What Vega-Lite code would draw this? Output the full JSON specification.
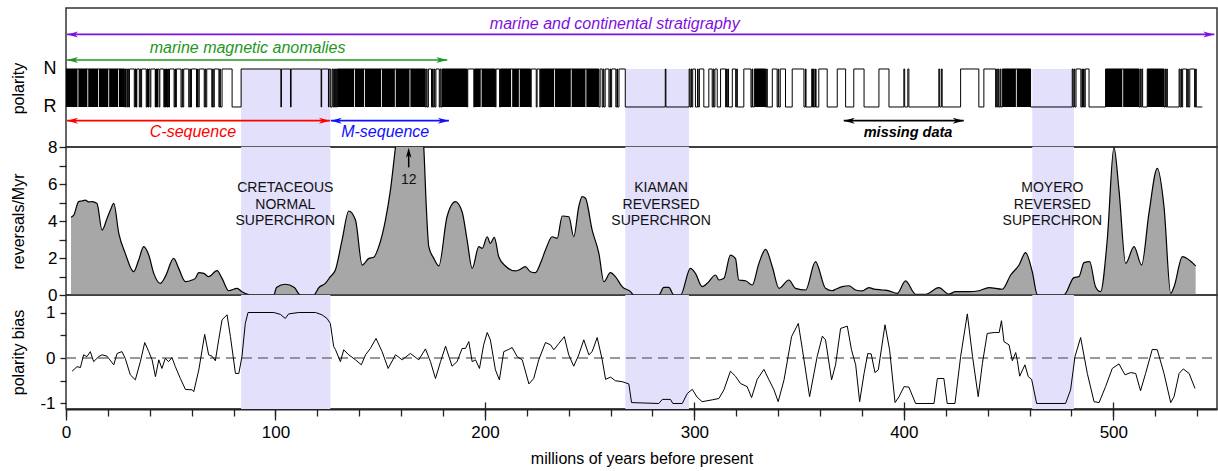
{
"$schema": "https://vega.github.io/schema/vega-lite/v6.json",
"padding": {"left": 9, "top": 7, "right": 2, "bottom": 0},
"background": "white",
"spacing": 0,
"bounds": "flush",
"config": {
 "font": "Liberation Sans",
 "view": {"stroke": "#333", "strokeWidth": 1.5},
 "axis": {"labelFont": "Liberation Sans", "titleFont": "Liberation Sans", "labelFontSize": 17, "titleFontSize": 16, "titleFontWeight": "normal", "labelColor": "#000", "titleColor": "#000", "tickColor": "#222", "domainColor": "#222", "tickWidth": 1.3, "grid": false, "labelOverlap": false, "labelFlush": false}
},
"datasets": {
 "bands": [{"s": 83.6, "e": 126.2}, {"s": 267.0, "e": 297.4}, {"s": 461.3, "e": 481.2}],
 "arrows": [{"id": "strat", "s": 0.5, "e": 548.2}, {"id": "anom", "s": 0.5, "e": 182.0}, {"id": "C", "s": 0.5, "e": 126.0}, {"id": "M", "s": 126.4, "e": 182.8}, {"id": "miss", "s": 371.3, "e": 428.6}],
 "dense": [{"s":0,"e":5.5},{"s":5.9,"e":10.2},{"s":10.6,"e":15.3},{"s":15.7,"e":20.2},{"s":20.6,"e":24.9},{"s":25.3,"e":28.0},{"s":33.0,"e":33.8},{"s":38.6,"e":39.6},{"s":42.5,"e":43.8},{"s":47.0,"e":48.6},{"s":129.5,"e":137.5},{"s":137.9,"e":142.3},{"s":142.7,"e":150.4},{"s":150.8,"e":157.0},{"s":157.4,"e":164.0},{"s":164.4,"e":171.5},{"s":179.5,"e":191.5},{"s":195.0,"e":198.0},{"s":198.4,"e":205.0},{"s":207.4,"e":212.5},{"s":213.0,"e":216.2},{"s":216.6,"e":221.8},{"s":226.5,"e":233.0},{"s":233.4,"e":241.0},{"s":241.4,"e":248.0},{"s":248.4,"e":254.4},{"s":328.6,"e":334.0},{"s":447.0,"e":453.5},{"s":453.9,"e":460.5},{"s":496.3,"e":504.3},{"s":504.7,"e":512.3},{"s":516.2,"e":524.2}],
 "pol": [{"a":0,"p":1},{"a":28.0,"p":0},{"a":28.4,"p":1},{"a":29.0,"p":0},{"a":29.4,"p":1},{"a":29.9,"p":0},{"a":30.3,"p":1},{"a":32.6,"p":0},{"a":33.0,"p":1},{"a":33.4,"p":0},{"a":33.8,"p":1},{"a":35.0,"p":0},{"a":35.4,"p":1},{"a":35.7,"p":0},{"a":36.1,"p":1},{"a":38.3,"p":0},{"a":38.7,"p":1},{"a":39.1,"p":0},{"a":39.5,"p":1},{"a":40.1,"p":0},{"a":40.5,"p":1},{"a":42.6,"p":0},{"a":43.0,"p":1},{"a":43.3,"p":0},{"a":43.7,"p":1},{"a":44.4,"p":0},{"a":44.8,"p":1},{"a":46.7,"p":0},{"a":47.1,"p":1},{"a":47.4,"p":0},{"a":47.8,"p":1},{"a":48.3,"p":0},{"a":48.7,"p":1},{"a":49.0,"p":0},{"a":49.4,"p":1},{"a":51.6,"p":0},{"a":52.0,"p":1},{"a":52.3,"p":0},{"a":52.7,"p":1},{"a":54.9,"p":0},{"a":55.4,"p":1},{"a":55.7,"p":0},{"a":56.2,"p":1},{"a":58.6,"p":0},{"a":59.1,"p":1},{"a":59.4,"p":0},{"a":59.9,"p":1},{"a":62.3,"p":0},{"a":62.8,"p":1},{"a":63.1,"p":0},{"a":63.6,"p":1},{"a":66.0,"p":0},{"a":66.4,"p":1},{"a":66.7,"p":0},{"a":67.2,"p":1},{"a":69.6,"p":0},{"a":70.0,"p":1},{"a":70.3,"p":0},{"a":70.8,"p":1},{"a":73.0,"p":0},{"a":73.4,"p":1},{"a":73.7,"p":0},{"a":74.5,"p":1},{"a":79.3,"p":0},{"a":83.6,"p":1},{"a":102.6,"p":0},{"a":102.85,"p":1},{"a":107.2,"p":0},{"a":107.45,"p":1},{"a":121.8,"p":0},{"a":122.05,"p":1},{"a":125.3,"p":0},{"a":125.55,"p":1},{"a":126.2,"p":0},{"a":127.0,"p":1},{"a":127.4,"p":0},{"a":127.8,"p":1},{"a":128.2,"p":0},{"a":128.7,"p":1},{"a":129.1,"p":0},{"a":129.5,"p":1},{"a":171.5,"p":0},{"a":172.0,"p":1},{"a":172.4,"p":0},{"a":173.0,"p":1},{"a":174.5,"p":0},{"a":175.0,"p":1},{"a":175.3,"p":0},{"a":175.8,"p":1},{"a":176.1,"p":0},{"a":176.6,"p":1},{"a":178.2,"p":0},{"a":178.6,"p":1},{"a":179.0,"p":0},{"a":179.5,"p":1},{"a":191.5,"p":0},{"a":191.8,"p":1},{"a":194.7,"p":0},{"a":195.0,"p":1},{"a":205.0,"p":0},{"a":205.3,"p":1},{"a":207.0,"p":0},{"a":207.4,"p":1},{"a":221.8,"p":0},{"a":222.1,"p":1},{"a":224.5,"p":0},{"a":224.9,"p":1},{"a":226.2,"p":0},{"a":226.5,"p":1},{"a":254.4,"p":0},{"a":255.0,"p":1},{"a":256.0,"p":0},{"a":256.5,"p":1},{"a":256.8,"p":0},{"a":257.4,"p":1},{"a":259.2,"p":0},{"a":259.7,"p":1},{"a":260.0,"p":0},{"a":260.5,"p":1},{"a":262.5,"p":0},{"a":263.0,"p":1},{"a":263.3,"p":0},{"a":264.0,"p":1},{"a":267.0,"p":0},{"a":286.1,"p":1},{"a":286.4,"p":0},{"a":297.5,"p":1},{"a":297.9,"p":0},{"a":298.4,"p":1},{"a":298.7,"p":0},{"a":299.2,"p":1},{"a":300.5,"p":0},{"a":301.5,"p":1},{"a":301.8,"p":0},{"a":302.4,"p":1},{"a":304.5,"p":0},{"a":306.9,"p":1},{"a":308.5,"p":0},{"a":309.0,"p":1},{"a":309.3,"p":0},{"a":309.8,"p":1},{"a":310.9,"p":0},{"a":312.5,"p":1},{"a":314.9,"p":0},{"a":315.3,"p":1},{"a":315.6,"p":0},{"a":316.0,"p":1},{"a":316.3,"p":0},{"a":318.1,"p":1},{"a":319.7,"p":0},{"a":320.2,"p":1},{"a":320.5,"p":0},{"a":323.6,"p":1},{"a":327.0,"p":0},{"a":327.5,"p":1},{"a":327.8,"p":0},{"a":328.6,"p":1},{"a":334.0,"p":0},{"a":334.5,"p":1},{"a":334.8,"p":0},{"a":337.2,"p":1},{"a":339.5,"p":0},{"a":340.0,"p":1},{"a":340.3,"p":0},{"a":341.0,"p":1},{"a":343.5,"p":0},{"a":346.7,"p":1},{"a":352.3,"p":0},{"a":353.0,"p":1},{"a":353.3,"p":0},{"a":356.0,"p":1},{"a":356.4,"p":0},{"a":356.9,"p":1},{"a":357.2,"p":0},{"a":357.8,"p":1},{"a":358.1,"p":0},{"a":359.4,"p":1},{"a":363.4,"p":0},{"a":368.2,"p":1},{"a":372.2,"p":0},{"a":376.1,"p":1},{"a":381.0,"p":0},{"a":388.1,"p":1},{"a":392.9,"p":0},{"a":400.0,"p":1},{"a":400.4,"p":0},{"a":401.9,"p":1},{"a":402.4,"p":0},{"a":416.7,"p":1},{"a":417.1,"p":0},{"a":417.9,"p":1},{"a":418.3,"p":0},{"a":427.1,"p":1},{"a":435.8,"p":0},{"a":438.2,"p":1},{"a":443.8,"p":0},{"a":444.3,"p":1},{"a":444.6,"p":0},{"a":445.1,"p":1},{"a":445.4,"p":0},{"a":446.0,"p":1},{"a":446.3,"p":0},{"a":447.0,"p":1},{"a":460.5,"p":0},{"a":480.4,"p":1},{"a":480.8,"p":0},{"a":481.3,"p":1},{"a":481.6,"p":0},{"a":482.2,"p":1},{"a":484.5,"p":0},{"a":485.0,"p":1},{"a":485.3,"p":0},{"a":485.8,"p":1},{"a":486.1,"p":0},{"a":486.6,"p":1},{"a":488.4,"p":0},{"a":496.3,"p":1},{"a":512.3,"p":0},{"a":512.8,"p":1},{"a":513.1,"p":0},{"a":513.6,"p":1},{"a":514.0,"p":0},{"a":516.2,"p":1},{"a":524.2,"p":0},{"a":524.7,"p":1},{"a":525.0,"p":0},{"a":525.5,"p":1},{"a":525.8,"p":0},{"a":531.4,"p":1},{"a":531.8,"p":0},{"a":532.3,"p":1},{"a":532.6,"p":0},{"a":533.1,"p":1},{"a":535.0,"p":0},{"a":535.5,"p":1},{"a":535.8,"p":0},{"a":536.5,"p":1},{"a":538.8,"p":0},{"a":539.3,"p":1},{"a":539.6,"p":0},{"a":542.5,"p":0}],
 "rate": [{"a":2.4,"r":4.2},{"a":3.7,"r":4.32},{"a":6.05,"r":5.05},{"a":7.6,"r":5.08},{"a":9.2,"r":5.13},{"a":10.8,"r":5.03},{"a":12.4,"r":5.05},{"a":14.8,"r":4.95},{"a":17.2,"r":3.51},{"a":19.6,"r":4.14},{"a":21.2,"r":4.59},{"a":22.8,"r":4.95},{"a":25.2,"r":3.33},{"a":28.3,"r":2.25},{"a":32.3,"r":1.26},{"a":34.7,"r":1.89},{"a":37.1,"r":2.61},{"a":39.5,"r":2.16},{"a":41.9,"r":1.17},{"a":45.0,"r":0.63},{"a":47.4,"r":0.99},{"a":51.4,"r":1.98},{"a":53.8,"r":1.44},{"a":57.0,"r":0.72},{"a":60.2,"r":0.81},{"a":61.7,"r":0.9},{"a":63.4,"r":1.21},{"a":65.8,"r":1.17},{"a":68.1,"r":0.99},{"a":72.1,"r":1.32},{"a":74.5,"r":0.9},{"a":77.7,"r":0.23},{"a":81.7,"r":0.36},{"a":84.0,"r":0.18},{"a":87.2,"r":0.02},{"a":88.0,"r":0},{"a":99.2,"r":0},{"a":100.5,"r":0.4},{"a":104.7,"r":0.58},{"a":109.0,"r":0.4},{"a":111.9,"r":0},{"a":118.3,"r":0},{"a":120.7,"r":0.4},{"a":123.8,"r":0.63},{"a":126.2,"r":0.99},{"a":128.6,"r":1.35},{"a":131.8,"r":2.97},{"a":135.0,"r":4.54},{"a":138.2,"r":4.05},{"a":141.4,"r":1.62},{"a":144.6,"r":1.98},{"a":146.9,"r":2.04},{"a":149.3,"r":2.61},{"a":152.5,"r":4.05},{"a":154.9,"r":5.68},{"a":157.3,"r":8.0},{"a":160.0,"r":10.5},{"a":163.0,"r":12.0},{"a":166.0,"r":11.6},{"a":169.0,"r":10.0},{"a":170.8,"r":8.0},{"a":172.0,"r":4.8},{"a":173.2,"r":2.61},{"a":175.6,"r":1.98},{"a":178.0,"r":1.57},{"a":181.9,"r":4.23},{"a":185.9,"r":5.05},{"a":189.1,"r":4.5},{"a":191.5,"r":2.97},{"a":193.9,"r":1.44},{"a":197.1,"r":2.61},{"a":198.7,"r":2.52},{"a":201.1,"r":3.15},{"a":202.6,"r":2.79},{"a":204.5,"r":3.12},{"a":206.6,"r":2.07},{"a":209.8,"r":1.57},{"a":214.6,"r":1.3},{"a":216.2,"r":1.35},{"a":219.3,"r":1.53},{"a":221.7,"r":1.26},{"a":224.1,"r":1.21},{"a":226.5,"r":1.71},{"a":228.9,"r":2.43},{"a":232.1,"r":3.15},{"a":234.5,"r":3.06},{"a":236.9,"r":4.27},{"a":240.1,"r":4.23},{"a":242.4,"r":3.15},{"a":244.8,"r":4.77},{"a":246.4,"r":5.32},{"a":248.0,"r":5.23},{"a":251.2,"r":3.51},{"a":254.4,"r":2.25},{"a":256.8,"r":0.72},{"a":259.9,"r":1.21},{"a":262.3,"r":0.99},{"a":265.5,"r":0.45},{"a":269.5,"r":0.18},{"a":271.1,"r":0},{"a":283.0,"r":0},{"a":285.4,"r":0.41},{"a":287.8,"r":0.41},{"a":290.2,"r":0},{"a":293.4,"r":0},{"a":298.1,"r":1.44},{"a":300.5,"r":1.17},{"a":303.7,"r":0.45},{"a":306.1,"r":0.63},{"a":310.1,"r":1.08},{"a":311.7,"r":0.81},{"a":314.1,"r":0.9},{"a":317.2,"r":2.16},{"a":319.6,"r":1.98},{"a":321.2,"r":0.81},{"a":324.4,"r":0.77},{"a":327.6,"r":0.54},{"a":330.8,"r":1.71},{"a":334.0,"r":2.47},{"a":337.2,"r":1.53},{"a":340.4,"r":0.36},{"a":345.1,"r":0.81},{"a":348.3,"r":0.36},{"a":353.1,"r":0.27},{"a":357.8,"r":1.8},{"a":362.6,"r":0.36},{"a":365.8,"r":0.23},{"a":367.4,"r":0.31},{"a":370.6,"r":0.45},{"a":373.8,"r":0.5},{"a":376.9,"r":0.27},{"a":380.1,"r":0.22},{"a":383.3,"r":0.4},{"a":385.7,"r":0.32},{"a":389.7,"r":0.27},{"a":392.9,"r":0.22},{"a":396.8,"r":0.09},{"a":400.8,"r":0.76},{"a":405.6,"r":0.04},{"a":410.4,"r":0.04},{"a":416.7,"r":0.4},{"a":421.5,"r":0.05},{"a":424.7,"r":0.18},{"a":431.1,"r":0.18},{"a":435.8,"r":0.23},{"a":440.6,"r":0.4},{"a":447.0,"r":0.31},{"a":451.0,"r":1.08},{"a":455.0,"r":1.62},{"a":458.1,"r":2.29},{"a":461.3,"r":1.26},{"a":463.7,"r":0.02},{"a":465.0,"r":0},{"a":476.4,"r":0},{"a":481.2,"r":0.94},{"a":483.6,"r":0.99},{"a":486.0,"r":1.75},{"a":488.7,"r":1.8},{"a":491.5,"r":0.45},{"a":493.9,"r":0.18},{"a":497.1,"r":2.97},{"a":500.3,"r":7.98},{"a":502.7,"r":5.68},{"a":505.9,"r":1.71},{"a":509.9,"r":2.61},{"a":513.5,"r":1.62},{"a":517.0,"r":4.41},{"a":521.0,"r":6.85},{"a":524.2,"r":4.77},{"a":527.4,"r":0.09},{"a":529.0,"r":0.45},{"a":533.0,"r":2.07},{"a":536.2,"r":1.89},{"a":539.3,"r":1.57}],
 "bias": [{"a":2.9,"b":-0.29},{"a":5.3,"b":-0.19},{"a":6.9,"b":-0.21},{"a":8.4,"b":0.07},{"a":10.0,"b":0.03},{"a":11.6,"b":0.14},{"a":13.2,"b":-0.08},{"a":15.6,"b":0.03},{"a":17.2,"b":0.07},{"a":19.6,"b":0.04},{"a":20.4,"b":-0.01},{"a":22.8,"b":-0.15},{"a":24.4,"b":0.1},{"a":26.7,"b":0.14},{"a":28.3,"b":-0.01},{"a":30.7,"b":-0.37},{"a":33.1,"b":-0.48},{"a":35.5,"b":-0.08},{"a":37.6,"b":0.34},{"a":39.5,"b":0.14},{"a":41.1,"b":-0.04},{"a":42.7,"b":-0.41},{"a":44.3,"b":-0.04},{"a":45.8,"b":-0.23},{"a":47.4,"b":-0.01},{"a":49.0,"b":-0.08},{"a":50.6,"b":0.01},{"a":52.2,"b":-0.19},{"a":54.6,"b":-0.45},{"a":57.0,"b":-0.69},{"a":60.2,"b":-0.7},{"a":61.0,"b":-0.74},{"a":63.4,"b":-0.26},{"a":65.0,"b":0.18},{"a":66.2,"b":0.52},{"a":68.1,"b":0.07},{"a":69.7,"b":0.04},{"a":71.3,"b":-0.06},{"a":72.9,"b":0.4},{"a":74.5,"b":0.84},{"a":76.9,"b":0.95},{"a":78.5,"b":0.47},{"a":80.9,"b":-0.34},{"a":82.5,"b":-0.34},{"a":84.0,"b":0.03},{"a":85.6,"b":0.76},{"a":86.9,"b":1.0},{"a":99.2,"b":1.0},{"a":102.3,"b":0.96},{"a":104.7,"b":0.87},{"a":106.3,"b":0.97},{"a":111.1,"b":1.0},{"a":119.1,"b":1.0},{"a":122.2,"b":0.95},{"a":124.6,"b":0.87},{"a":126.2,"b":0.76},{"a":127.8,"b":0.25},{"a":128.6,"b":0.19},{"a":131.0,"b":-0.08},{"a":132.6,"b":0.18},{"a":135.0,"b":0.07},{"a":138.2,"b":-0.04},{"a":141.0,"b":-0.15},{"a":143.0,"b":0.07},{"a":145.3,"b":0.21},{"a":148.0,"b":0.43},{"a":150.9,"b":0.14},{"a":153.8,"b":-0.23},{"a":157.3,"b":0.07},{"a":160.5,"b":-0.04},{"a":164.4,"b":0.1},{"a":168.4,"b":-0.04},{"a":171.6,"b":0.2},{"a":174.0,"b":-0.08},{"a":176.4,"b":-0.45},{"a":178.8,"b":-0.08},{"a":181.2,"b":0.26},{"a":184.3,"b":-0.18},{"a":186.7,"b":-0.08},{"a":189.1,"b":0.21},{"a":190.7,"b":0.21},{"a":192.3,"b":0.36},{"a":193.9,"b":-0.08},{"a":195.5,"b":-0.04},{"a":197.4,"b":-0.23},{"a":199.4,"b":0.29},{"a":201.1,"b":0.56},{"a":202.6,"b":0.4},{"a":205.0,"b":-0.26},{"a":206.9,"b":-0.48},{"a":209.0,"b":0.14},{"a":211.4,"b":0.19},{"a":213.0,"b":0.23},{"a":215.4,"b":0.03},{"a":217.8,"b":-0.04},{"a":221.0,"b":-0.57},{"a":223.3,"b":-0.45},{"a":225.7,"b":-0.04},{"a":228.9,"b":0.34},{"a":231.3,"b":0.29},{"a":232.9,"b":0.18},{"a":235.3,"b":0.32},{"a":237.9,"b":0.47},{"a":240.0,"b":0.07},{"a":242.4,"b":-0.18},{"a":244.8,"b":0.07},{"a":247.2,"b":0.4},{"a":249.6,"b":0.07},{"a":251.2,"b":0.14},{"a":253.6,"b":0.45},{"a":256.0,"b":-0.04},{"a":257.6,"b":-0.47},{"a":260.0,"b":-0.42},{"a":262.3,"b":-0.5},{"a":265.5,"b":-0.52},{"a":268.7,"b":-0.57},{"a":270.0,"b":-0.98},{"a":283.0,"b":-1.0},{"a":284.7,"b":-0.91},{"a":288.6,"b":-0.91},{"a":289.7,"b":-1.0},{"a":294.2,"b":-1.0},{"a":296.6,"b":-0.78},{"a":299.0,"b":-0.69},{"a":301.3,"b":-0.86},{"a":303.7,"b":-0.96},{"a":308.5,"b":-0.92},{"a":311.7,"b":-0.89},{"a":314.1,"b":-0.7},{"a":317.2,"b":-0.29},{"a":319.6,"b":-0.4},{"a":322.0,"b":-0.56},{"a":325.2,"b":-0.63},{"a":327.3,"b":-0.87},{"a":330.0,"b":-0.47},{"a":333.2,"b":-0.25},{"a":335.6,"b":-0.48},{"a":338.0,"b":-0.7},{"a":340.0,"b":-0.96},{"a":342.8,"b":-0.48},{"a":346.4,"b":0.47},{"a":349.6,"b":0.76},{"a":351.5,"b":0.21},{"a":355.0,"b":-0.85},{"a":358.6,"b":0.03},{"a":361.1,"b":0.48},{"a":362.6,"b":0.4},{"a":365.5,"b":-0.48},{"a":367.4,"b":-0.15},{"a":369.8,"b":0.65},{"a":373.0,"b":0.7},{"a":375.0,"b":0.18},{"a":377.0,"b":-0.15},{"a":378.9,"b":-0.96},{"a":381.0,"b":-0.34},{"a":382.8,"b":0.1},{"a":384.4,"b":0.09},{"a":386.2,"b":-0.32},{"a":387.8,"b":-0.26},{"a":391.0,"b":0.73},{"a":393.2,"b":0.18},{"a":395.8,"b":-0.98},{"a":397.7,"b":-0.85},{"a":400.1,"b":-0.63},{"a":402.4,"b":-0.64},{"a":405.6,"b":-1.0},{"a":414.4,"b":-1.0},{"a":416.0,"b":-0.45},{"a":419.1,"b":-0.45},{"a":420.7,"b":-1.0},{"a":424.4,"b":-1.0},{"a":427.1,"b":0.03},{"a":430.3,"b":0.97},{"a":432.8,"b":0.03},{"a":435.5,"b":-0.85},{"a":437.5,"b":-0.12},{"a":439.8,"b":0.54},{"a":443.1,"b":0.56},{"a":445.5,"b":0.56},{"a":446.6,"b":0.82},{"a":447.8,"b":0.36},{"a":450.2,"b":0.29},{"a":451.8,"b":-0.06},{"a":453.4,"b":0.12},{"a":454.2,"b":-0.06},{"a":455.3,"b":-0.4},{"a":457.8,"b":-0.15},{"a":459.4,"b":-0.41},{"a":461.0,"b":-0.47},{"a":463.4,"b":-1.0},{"a":477.2,"b":-1.0},{"a":479.6,"b":-0.7},{"a":481.7,"b":0.03},{"a":484.4,"b":0.45},{"a":487.6,"b":-0.34},{"a":490.8,"b":-0.96},{"a":493.2,"b":-0.98},{"a":496.3,"b":-0.63},{"a":499.5,"b":-0.23},{"a":502.7,"b":-0.13},{"a":505.6,"b":-0.37},{"a":508.3,"b":-0.32},{"a":510.7,"b":-0.34},{"a":513.0,"b":-0.72},{"a":515.4,"b":-0.34},{"a":518.6,"b":0.19},{"a":521.0,"b":0.18},{"a":524.2,"b":-0.34},{"a":527.4,"b":-0.98},{"a":529.0,"b":-0.85},{"a":531.4,"b":-0.34},{"a":533.4,"b":-0.24},{"a":536.2,"b":-0.34},{"a":539.0,"b":-0.67}]
},
"vconcat": [
 {
  "width": 1151, "height": 139,
  "layer": [
   {"data": {"name": "bands"}, "mark": {"type": "rect", "color": "#e2e0fb"},
    "encoding": {"x": {"field": "s", "type": "quantitative", "scale": {"domain": [0, 549.5], "nice": false, "zero": false}, "axis": null}, "x2": {"field": "e"},
     "y": {"datum": 1, "type": "quantitative", "scale": {"domain": [-1.053, 2.605], "nice": false, "zero": false},
      "axis": {"title": "polarity", "values": [0, 1], "labelExpr": "datum.value == 1 ? 'N' : 'R'", "ticks": false, "tickSize": 0, "domain": false, "labelPadding": 10, "labelFontSize": 18, "labelOverlap": false, "titleX": -43, "titleY": 80, "titleBaseline": "alphabetic"}}, "y2": {"datum": -1.053}}},
   {"data": {"name": "dense"}, "mark": {"type": "rect", "color": "black"},
    "encoding": {"x": {"field": "s", "type": "quantitative", "scale": {"domain": [0, 549.5], "nice": false, "zero": false}, "axis": null}, "x2": {"field": "e"},
     "y": {"datum": 1, "type": "quantitative"}, "y2": {"datum": 0}}},
   {"data": {"name": "pol"}, "mark": {"type": "line", "interpolate": "step-after", "color": "black", "strokeWidth": 1},
    "encoding": {"x": {"field": "a", "type": "quantitative", "scale": {"domain": [0, 549.5], "nice": false, "zero": false}, "axis": null},
     "y": {"field": "p", "type": "quantitative"}}},
   {"data": {"name": "arrows"}, "transform": [{"filter": "datum.id == 'strat'"}],
    "encoding": {"y": {"datum": 1.91, "type": "quantitative"},
     "color": {"field": "id", "type": "nominal", "scale": {"domain": ["strat", "anom", "C", "M", "miss"], "range": ["#7f10e0", "#1f961f", "#ff0000", "#1010ff", "#000000"]}, "legend": null}},
    "layer": [
     {"mark": {"type": "rule", "strokeWidth": 1.6}, "encoding": {"x": {"field": "s", "type": "quantitative", "scale": {"domain": [0, 549.5], "nice": false, "zero": false}, "axis": null}, "x2": {"field": "e"}}},
     {"mark": {"type": "point", "shape": "M0,0L2,-0.55L1.45,0L2,0.55Z", "size": 121, "filled": true, "opacity": 1, "strokeWidth": 0}, "encoding": {"x": {"field": "s", "type": "quantitative", "scale": {"domain": [0, 549.5], "nice": false, "zero": false}, "axis": null}}},
     {"mark": {"type": "point", "shape": "M0,0L-2,-0.55L-1.45,0L-2,0.55Z", "size": 121, "filled": true, "opacity": 1, "strokeWidth": 0}, "encoding": {"x": {"field": "e", "type": "quantitative", "scale": {"domain": [0, 549.5], "nice": false, "zero": false}, "axis": null}}}
    ]},
   {"data": {"name": "arrows"}, "transform": [{"filter": "datum.id == 'anom'"}],
    "encoding": {"y": {"datum": 1.237, "type": "quantitative"},
     "color": {"field": "id", "type": "nominal", "scale": {"domain": ["strat", "anom", "C", "M", "miss"], "range": ["#7f10e0", "#1f961f", "#ff0000", "#1010ff", "#000000"]}, "legend": null}},
    "layer": [
     {"mark": {"type": "rule", "strokeWidth": 1.6}, "encoding": {"x": {"field": "s", "type": "quantitative", "scale": {"domain": [0, 549.5], "nice": false, "zero": false}, "axis": null}, "x2": {"field": "e"}}},
     {"mark": {"type": "point", "shape": "M0,0L2,-0.55L1.45,0L2,0.55Z", "size": 121, "filled": true, "opacity": 1, "strokeWidth": 0}, "encoding": {"x": {"field": "s", "type": "quantitative", "scale": {"domain": [0, 549.5], "nice": false, "zero": false}, "axis": null}}},
     {"mark": {"type": "point", "shape": "M0,0L-2,-0.55L-1.45,0L-2,0.55Z", "size": 121, "filled": true, "opacity": 1, "strokeWidth": 0}, "encoding": {"x": {"field": "e", "type": "quantitative", "scale": {"domain": [0, 549.5], "nice": false, "zero": false}, "axis": null}}}
    ]},
   {"data": {"name": "arrows"}, "transform": [{"filter": "datum.id == 'C' || datum.id == 'M' || datum.id == 'miss'"}],
    "encoding": {"y": {"datum": -0.36, "type": "quantitative"},
     "color": {"field": "id", "type": "nominal", "scale": {"domain": ["strat", "anom", "C", "M", "miss"], "range": ["#7f10e0", "#1f961f", "#ff0000", "#1010ff", "#000000"]}, "legend": null}},
    "layer": [
     {"mark": {"type": "rule", "strokeWidth": 1.6}, "encoding": {"x": {"field": "s", "type": "quantitative", "scale": {"domain": [0, 549.5], "nice": false, "zero": false}, "axis": null}, "x2": {"field": "e"}}},
     {"mark": {"type": "point", "shape": "M0,0L2,-0.55L1.45,0L2,0.55Z", "size": 121, "filled": true, "opacity": 1, "strokeWidth": 0}, "encoding": {"x": {"field": "s", "type": "quantitative", "scale": {"domain": [0, 549.5], "nice": false, "zero": false}, "axis": null}}},
     {"mark": {"type": "point", "shape": "M0,0L-2,-0.55L-1.45,0L-2,0.55Z", "size": 121, "filled": true, "opacity": 1, "strokeWidth": 0}, "encoding": {"x": {"field": "e", "type": "quantitative", "scale": {"domain": [0, 549.5], "nice": false, "zero": false}, "axis": null}}}
    ]},
   {"data": {"values": [{"t": "marine and continental stratigraphy", "a": 262}]}, "mark": {"type": "text", "fontStyle": "italic", "fontSize": 16, "color": "#7f10e0", "baseline": "alphabetic", "align": "center"},
    "encoding": {"x": {"field": "a", "type": "quantitative", "scale": {"domain": [0, 549.5], "nice": false, "zero": false}, "axis": null}, "y": {"datum": 2.05, "type": "quantitative"}, "text": {"field": "t"}}},
   {"data": {"values": [{"t": "marine magnetic anomalies", "a": 86.7}]}, "mark": {"type": "text", "fontStyle": "italic", "fontSize": 16, "color": "#1f961f", "baseline": "alphabetic", "align": "center"},
    "encoding": {"x": {"field": "a", "type": "quantitative", "scale": {"domain": [0, 549.5], "nice": false, "zero": false}, "axis": null}, "y": {"datum": 1.41, "type": "quantitative"}, "text": {"field": "t"}}},
   {"data": {"values": [{"t": "C-sequence", "a": 60.6}]}, "mark": {"type": "text", "fontStyle": "italic", "fontSize": 16, "color": "#ff0000", "baseline": "alphabetic", "align": "center"},
    "encoding": {"x": {"field": "a", "type": "quantitative", "scale": {"domain": [0, 549.5], "nice": false, "zero": false}, "axis": null}, "y": {"datum": -0.797, "type": "quantitative"}, "text": {"field": "t"}}},
   {"data": {"values": [{"t": "M-sequence", "a": 152.4}]}, "mark": {"type": "text", "fontStyle": "italic", "fontSize": 16, "color": "#1010ff", "baseline": "alphabetic", "align": "center"},
    "encoding": {"x": {"field": "a", "type": "quantitative", "scale": {"domain": [0, 549.5], "nice": false, "zero": false}, "axis": null}, "y": {"datum": -0.797, "type": "quantitative"}, "text": {"field": "t"}}},
   {"data": {"values": [{"t": "missing data", "a": 402}]}, "mark": {"type": "text", "fontStyle": "italic", "fontWeight": "bold", "fontSize": 14.5, "color": "#000000", "baseline": "alphabetic", "align": "center"},
    "encoding": {"x": {"field": "a", "type": "quantitative", "scale": {"domain": [0, 549.5], "nice": false, "zero": false}, "axis": null}, "y": {"datum": -0.78, "type": "quantitative"}, "text": {"field": "t"}}}
  ]
 },
 {
  "width": 1151, "height": 148,
  "resolve": {"axis": {"y": "independent"}},
  "layer": [
   {"data": {"name": "bands"}, "mark": {"type": "rect", "color": "#e2e0fb"},
    "encoding": {"x": {"field": "s", "type": "quantitative", "scale": {"domain": [0, 549.5], "nice": false, "zero": false}, "axis": null}, "x2": {"field": "e"},
     "y": {"datum": 8, "type": "quantitative", "scale": {"domain": [0, 8], "nice": false}, "axis": {"orient": "left", "title": "reversals/Myr", "values": [0, 2, 4, 6, 8], "labelOverlap": false, "tickSize": 7, "labelPadding": 2, "domain": false, "titleX": -43, "titleBaseline": "alphabetic"}}, "y2": {"datum": 0}}},
   {"data": {"name": "rate"}, "mark": {"type": "area", "color": "#a7a7a7", "opacity": 1, "interpolate": "monotone", "clip": true},
    "encoding": {"x": {"field": "a", "type": "quantitative", "scale": {"domain": [0, 549.5], "nice": false, "zero": false}, "axis": null}, "y": {"field": "r", "type": "quantitative", "axis": {"orient": "left", "title": null, "values": [1, 3, 5, 7], "labels": false, "tickSize": 7, "domain": false}}}},
   {"data": {"name": "rate"}, "mark": {"type": "line", "color": "black", "strokeWidth": 1.2, "interpolate": "monotone", "clip": true},
    "encoding": {"x": {"field": "a", "type": "quantitative", "scale": {"domain": [0, 549.5], "nice": false, "zero": false}, "axis": null}, "y": {"field": "r", "type": "quantitative", "axis": null}}},
   {"data": {"values": [{"t": "CRETACEOUS\nNORMAL\nSUPERCHRON", "a": 104.7}, {"t": "KIAMAN\nREVERSED\nSUPERCHRON", "a": 284.1}, {"t": "MOYERO\nREVERSED\nSUPERCHRON", "a": 470.9}]},
    "mark": {"type": "text", "fontSize": 14, "color": "#111", "lineBreak": "\n", "lineHeight": 16.5, "baseline": "middle", "align": "center"},
    "encoding": {"x": {"field": "a", "type": "quantitative", "scale": {"domain": [0, 549.5], "nice": false, "zero": false}, "axis": null}, "y": {"datum": 5.78, "type": "quantitative", "axis": null}, "text": {"field": "t"}}},
   {"data": {"values": [{"t": "12", "a": 163.6}]},
    "encoding": {"x": {"field": "a", "type": "quantitative", "scale": {"domain": [0, 549.5], "nice": false, "zero": false}, "axis": null}},
    "layer": [
     {"mark": {"type": "text", "fontSize": 14, "color": "#111", "baseline": "middle", "align": "center"}, "encoding": {"y": {"datum": 6.2, "type": "quantitative", "axis": null}, "text": {"field": "t"}}},
     {"mark": {"type": "rule", "color": "black", "strokeWidth": 1.5}, "encoding": {"y": {"datum": 6.9, "type": "quantitative", "axis": null}, "y2": {"datum": 7.6}}},
     {"mark": {"type": "point", "shape": "M0,0L-0.55,2L0,1.45L0.55,2Z", "size": 100, "filled": true, "opacity": 1, "color": "black", "strokeWidth": 0}, "encoding": {"y": {"datum": 7.96, "type": "quantitative", "axis": null}}}
    ]}
  ]
 },
 {
  "width": 1151, "height": 114,
  "resolve": {"axis": {"x": "independent", "y": "independent"}},
  "layer": [
   {"data": {"name": "bands"}, "mark": {"type": "rect", "color": "#e2e0fb"},
    "encoding": {"x": {"field": "s", "type": "quantitative", "scale": {"domain": [0, 549.5], "nice": false, "zero": false}, "axis": {"orient": "bottom", "values": [0,20,40,60,80,100,120,140,160,180,200,220,240,260,280,300,320,340,360,380,400,420,440,460,480,500,520,540], "tickSize": 7, "labels": false, "domain": true, "domainWidth": 2, "title": null}}, "x2": {"field": "e"},
     "y": {"datum": 1.385, "type": "quantitative", "scale": {"domain": [-1.121, 1.385], "nice": false, "zero": false}, "axis": {"orient": "left", "title": "polarity bias", "values": [-1, 0, 1], "labelExpr": "datum.value == 1 ? '1' : datum.value == 0 ? '0' : '-1'", "labelOverlap": false, "tickSize": 6, "labelPadding": 5, "domain": false, "titleX": -43, "titleBaseline": "alphabetic"}}, "y2": {"datum": -1.121}}},
   {"data": {"values": [{}]}, "mark": {"type": "rule", "strokeDash": [10, 6], "color": "#777", "strokeWidth": 1.5},
    "encoding": {"x": {"datum": 0, "type": "quantitative", "axis": {"orient": "bottom", "values": [100, 200, 300, 400, 500], "tickSize": -7, "labels": false, "domain": false, "title": null}}, "x2": {"datum": 549.5},
     "y": {"datum": 0, "type": "quantitative", "axis": {"orient": "left", "title": null, "values": [-0.5, 0.5], "labels": false, "tickSize": 6, "domain": false}}}},
   {"data": {"name": "bias"}, "mark": {"type": "line", "color": "black", "strokeWidth": 1},
    "encoding": {"x": {"field": "a", "type": "quantitative", "axis": {"orient": "bottom", "values": [0, 100, 200, 300, 400, 500], "tickSize": 11, "labelPadding": 4, "labelFlush": false, "labelOverlap": false, "domain": false, "title": "millions of years before present", "titlePadding": 10}},
     "y": {"field": "b", "type": "quantitative", "axis": null}}}
  ]
 }
]
}
